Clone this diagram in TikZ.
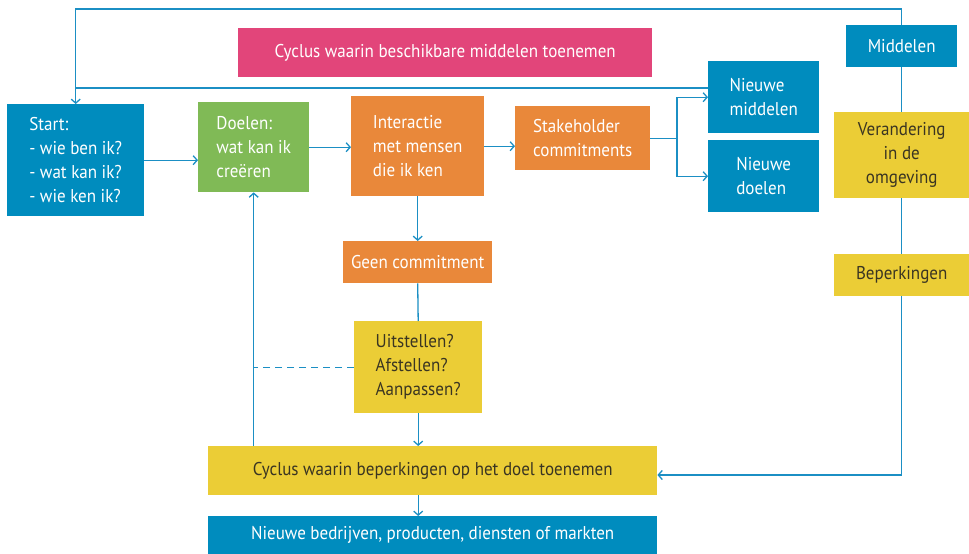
\documentclass[tikz,border=0pt]{standalone}
\usepackage{fontspec}
\setmainfont{PT Sans}[FakeStretch=0.92]
\usetikzlibrary{arrows.meta,calc}
\definecolor{cblue}{HTML}{008CBE}
\definecolor{cpink}{HTML}{E2457A}
\definecolor{cgreen}{HTML}{80BA56}
\definecolor{corange}{HTML}{E9883A}
\definecolor{cyellow}{HTML}{EBCD36}
\definecolor{cline}{HTML}{1B8FC4}
\definecolor{cdark}{HTML}{3A3522}
\begin{document}
\begin{tikzpicture}[x=1pt,y=-1pt,
  box/.style={draw=none, inner sep=0pt, anchor=north west, text=white,
    font=\fontsize{18.5}{24}\selectfont, align=left},
  ybox/.style={box, fill=cyellow, text=cdark},
  sz/.style 2 args={minimum width=#1pt, minimum height=#2pt},
  conn/.style={draw=cline, line width=1.3pt},
  arr/.style={conn, -{Straight Barb[length=4pt,width=9pt,line width=1.3pt]}}
]
\useasboundingbox (0,0) rectangle (969,554);
\fill[white] (0,0) rectangle (969,554);

% boxes
\node[box,fill=cpink,sz={414}{49},align=center] (pink) at (238,28) {Cyclus waarin beschikbare middelen toenemen};
\node[box,fill=cblue,sz={137}{112}] (start) at (7,104) {Start:\\- wie ben ik?\\- wat kan ik?\\- wie ken ik?};
\node[box,fill=cgreen,sz={111}{90}] (doelen) at (198,102) {Doelen:\\wat kan ik\\creëren};
\node[box,fill=corange,sz={133}{100}] (inter) at (351,96) {Interactie\\met mensen\\die ik ken};
\node[box,fill=corange,sz={135}{64}] (stake) at (515,106) {Stakeholder\\commitments};
\node[box,fill=cblue,sz={111}{72}] (nm) at (708,61) {Nieuwe\\middelen};
\node[box,fill=cblue,sz={111}{72}] (nd) at (708,140) {Nieuwe\\doelen};
\node[box,fill=cblue,sz={111}{42},align=center] (mid) at (846,25) {Middelen};
\node[ybox,sz={135}{86},align=center] (ver) at (834,112) {Verandering\\in de\\omgeving};
\node[ybox,sz={135}{42},align=center] (bep) at (834,254) {Beperkingen};
\node[box,fill=corange,sz={149}{42},align=center] (geen) at (343,241) {Geen commitment};
\node[ybox,sz={128}{92}] (uit) at (354,321) {Uitstellen?\\Afstellen?\\Aanpassen?};
\node[ybox,sz={449}{49},align=center] (cyc) at (208,446) {Cyclus waarin beperkingen op het doel toenemen};
\node[box,fill=cblue,sz={449}{38},align=center] (bot) at (208,516) {Nieuwe bedrijven, producten, diensten of markten};

% helper coordinates
\coordinate (top) at (0,9);
\coordinate (m88) at (0,88);
\coordinate (br) at (677,0);
\coordinate (y475) at (0,475);

% connectors
\draw[arr] (start.east) -- (doelen.west |- start.east);
\draw[arr] (doelen.east) -- (inter.west |- doelen.east);
\draw[arr] (inter.east) -- (stake.west |- inter.east);
\draw[conn] (stake.east) -- (br |- stake.east);
\draw[arr] (br |- stake.east) |- (nm.west);
\draw[arr] (br |- stake.east) |- (nd.west);

\draw[arr] (mid.north) |- (start.north |- top) -- (start.north);
\draw[conn] (nm.west |- m88) -- (start.north |- m88);
\draw[conn] (mid.south) -- (ver.north);
\draw[conn] (ver.south) -- (bep.north);
\draw[arr] (bep.south) |- (cyc.east |- y475);

\draw[arr] (inter.south) -- (geen.north);
\draw[conn] (geen.south) -- (uit.north);
\draw[arr] (uit.south) -- (uit.south |- cyc.north);
\draw[arr] (uit.south |- cyc.south) -- (uit.south |- bot.north);
\draw[arr] (doelen.south |- cyc.north) -- (doelen.south);
\draw[conn, dash pattern=on 7pt off 5pt] (uit.west) -- (doelen.south |- uit.west);
\end{tikzpicture}
\end{document}
